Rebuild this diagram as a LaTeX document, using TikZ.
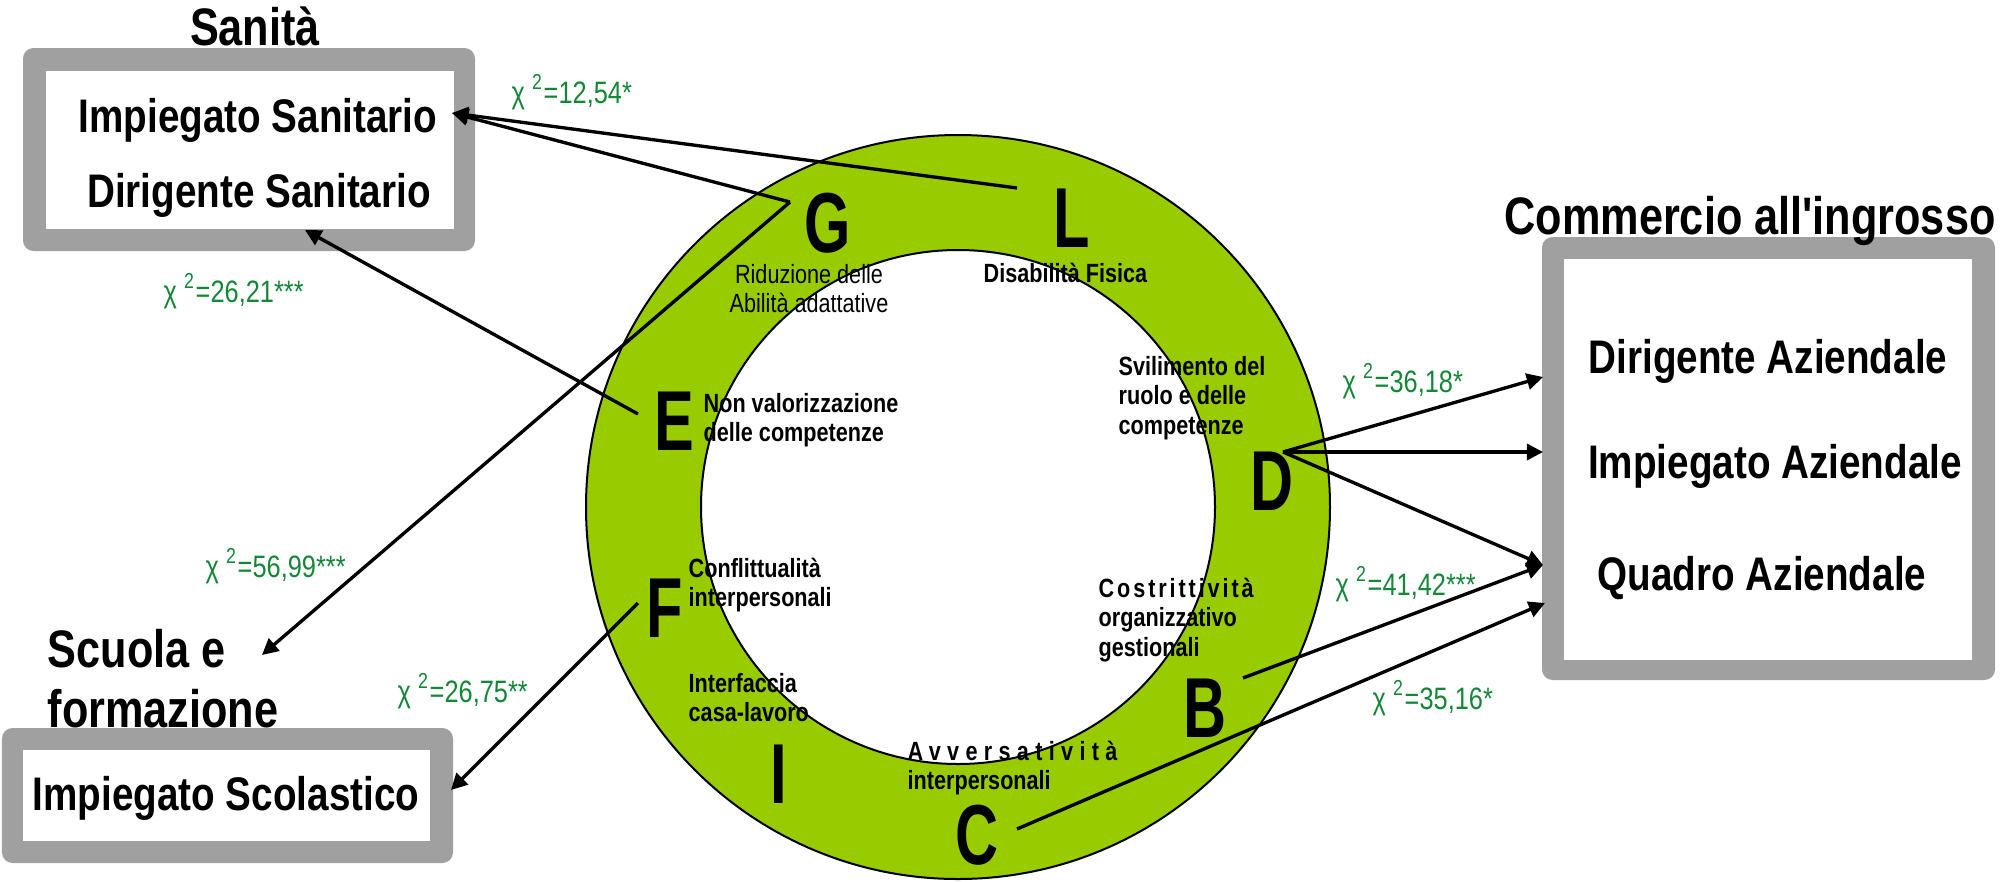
\documentclass[tikz,border=0pt]{standalone}
\usepackage{fontspec}
\setmainfont{Liberation Sans}
\newfontfamily\narrowsf[FakeStretch=0.82,Ligatures=TeXOff]{Liberation Sans}
\newfontfamily\lettersf[FakeStretch=0.7]{Liberation Sans}
\usetikzlibrary{arrows.meta}
\definecolor{ringgreen}{RGB}{153,204,0}
\definecolor{boxgray}{RGB}{160,160,160}
\definecolor{chigreen}{RGB}{20,135,55}
\newcommand{\chisq}[1]{χ \textsuperscript{2}=#1}
\newcommand{\leftlines}[1]{\begin{tabular}[t]{@{}l@{}}#1\end{tabular}}
\newcommand{\midlines}[1]{\begin{tabular}[t]{@{}c@{}}#1\end{tabular}}
\begin{document}
\begin{tikzpicture}[x=0.01cm, y=-0.01cm,
  title/.style={font=\narrowsf\bfseries\fontsize{15}{17.1}\selectfont, inner sep=0pt, anchor=base},
  role/.style={font=\narrowsf\bfseries\fontsize{13.4}{16}\selectfont, inner sep=0pt, anchor=base},
  letter/.style={font=\lettersf\bfseries\fontsize{24.2}{28}\selectfont, inner sep=0pt, anchor=base},
  factor/.style={font=\narrowsf\bfseries\fontsize{7.5}{8.4}\selectfont, inner sep=0pt, anchor=base west},
  chilabel/.style={font=\narrowsf\fontsize{8.8}{10}\selectfont, text=chigreen, inner sep=0pt, anchor=base west},
  link/.style={line width=0.95pt, -{Triangle[length=4.6pt, width=4.6pt]}},
  frame/.style={fill=boxgray, rounded corners=3pt}]
  \useasboundingbox (0,0) rectangle (2005,881);
  \fill[frame] (23,48) rectangle (475,251);
  \fill[white] (46,71) rectangle (454,229);
  \fill[frame] (2,728) rectangle (453,863);
  \fill[white] (23,750) rectangle (430,841);
  \fill[frame] (1542,237) rectangle (1995,680);
  \fill[white] (1564,259) rectangle (1972,660);
  \draw[fill=ringgreen, even odd rule, line width=0.57pt] (958,507) circle (372) (958,507) circle (257);

  \node[title] (sanita) at (255,45) {Sanità};
  \node[role] (impsan) at (258,132) {Impiegato Sanitario};
  \node[role] (dirsan) at (259,207) {Dirigente Sanitario};
  \node[title, anchor=base west] (scuola) at (47,667) {\leftlines{Scuola e\\formazione}};
  \node[role] (impscol) at (226,810) {Impiegato Scolastico};
  \node[title] (commercio) at (1750,234) {Commercio all'ingrosso};
  \node[role] (diraz) at (1768,373) {Dirigente Aziendale};
  \node[role] (impaz) at (1775,478) {Impiegato Aziendale};
  \node[role] (quaz) at (1762,590) {Quadro Aziendale};

  \node[letter] (G) at (828,252) {G};
  \node[letter] (L) at (1072,247) {L};
  \node[letter] (E) at (674,450) {E};
  \node[letter] (F) at (665,637) {F};
  \node[letter] (D) at (1272,510) {D};
  \node[letter] (B) at (1205,737) {B};
  \node[letter] (C) at (977,864) {C};
  \node[letter] (I) at (779,803) {I};

  \node[factor, font=\narrowsf\fontsize{7.5}{8.4}\selectfont, anchor=base] (riduz) at (809,283) {\midlines{Riduzione delle\\Abilità adattative}};
  \node[factor] (disab) at (983,282) {Disabilità Fisica};
  \node[factor] (svil) at (1118,375) {\leftlines{Svilimento del\\ruolo e delle\\competenze}};
  \node[factor] (nonval) at (703,412) {\leftlines{Non valorizzazione\\delle competenze}};
  \node[factor] (confl) at (688,577) {\leftlines{Conflittualità\\interpersonali}};
  \node[factor] (interf) at (688,692) {\leftlines{Interfaccia\\casa-lavoro}};
  \node[factor] (costr) at (1098,597) {\leftlines{{\addfontfeatures{LetterSpace=11}Costrittività}\\organizzativo\\gestionali}};
  \node[factor] (avvers) at (907,760) {\leftlines{{\addfontfeatures{LetterSpace=24}Avversatività}\\interpersonali}};

  \node[chilabel] (chi-ls) at (511,103) {\chisq{12,54*}};
  \node[chilabel] (chi-ed) at (163,302) {\chisq{26,21***}};
  \node[chilabel] (chi-gs) at (205,577) {\chisq{56,99***}};
  \node[chilabel] (chi-fs) at (397,702) {\chisq{26,75**}};
  \node[chilabel] (chi-dd) at (1342,392) {\chisq{36,18*}};
  \node[chilabel] (chi-bq) at (1335,595) {\chisq{41,42***}};
  \node[chilabel] (chi-cq) at (1372,709) {\chisq{35,16*}};

  \coordinate (l-out) at (1017,188);
  \coordinate (g-out) at (790,202);
  \coordinate (e-out) at (638,414);
  \coordinate (f-out) at (638,603);
  \coordinate (d-out) at (1283,452);
  \coordinate (b-out) at (1243,678);
  \coordinate (c-out) at (1017,829);
  \coordinate (san-imp) at (452,113);
  \coordinate (san-dir) at (305,230);
  \coordinate (scuola-in) at (262,655);
  \coordinate (scol-imp) at (451,790);
  \coordinate (com-dir) at (1543,377);
  \coordinate (com-imp) at (1543,452);
  \coordinate (com-qua) at (1543,565);
  \coordinate (com-low) at (1545,603);

  \draw[link] (l-out) -- (san-imp);
  \draw[link] (g-out) -- (san-imp);
  \draw[link] (g-out) -- (scuola-in);
  \draw[link] (e-out) -- (san-dir);
  \draw[link] (f-out) -- (scol-imp);
  \draw[link] (d-out) -- (com-dir);
  \draw[link] (d-out) -- (com-imp);
  \draw[link] (d-out) -- (com-qua);
  \draw[link] (b-out) -- (com-qua);
  \draw[link] (c-out) -- (com-low);
\end{tikzpicture}
\end{document}
